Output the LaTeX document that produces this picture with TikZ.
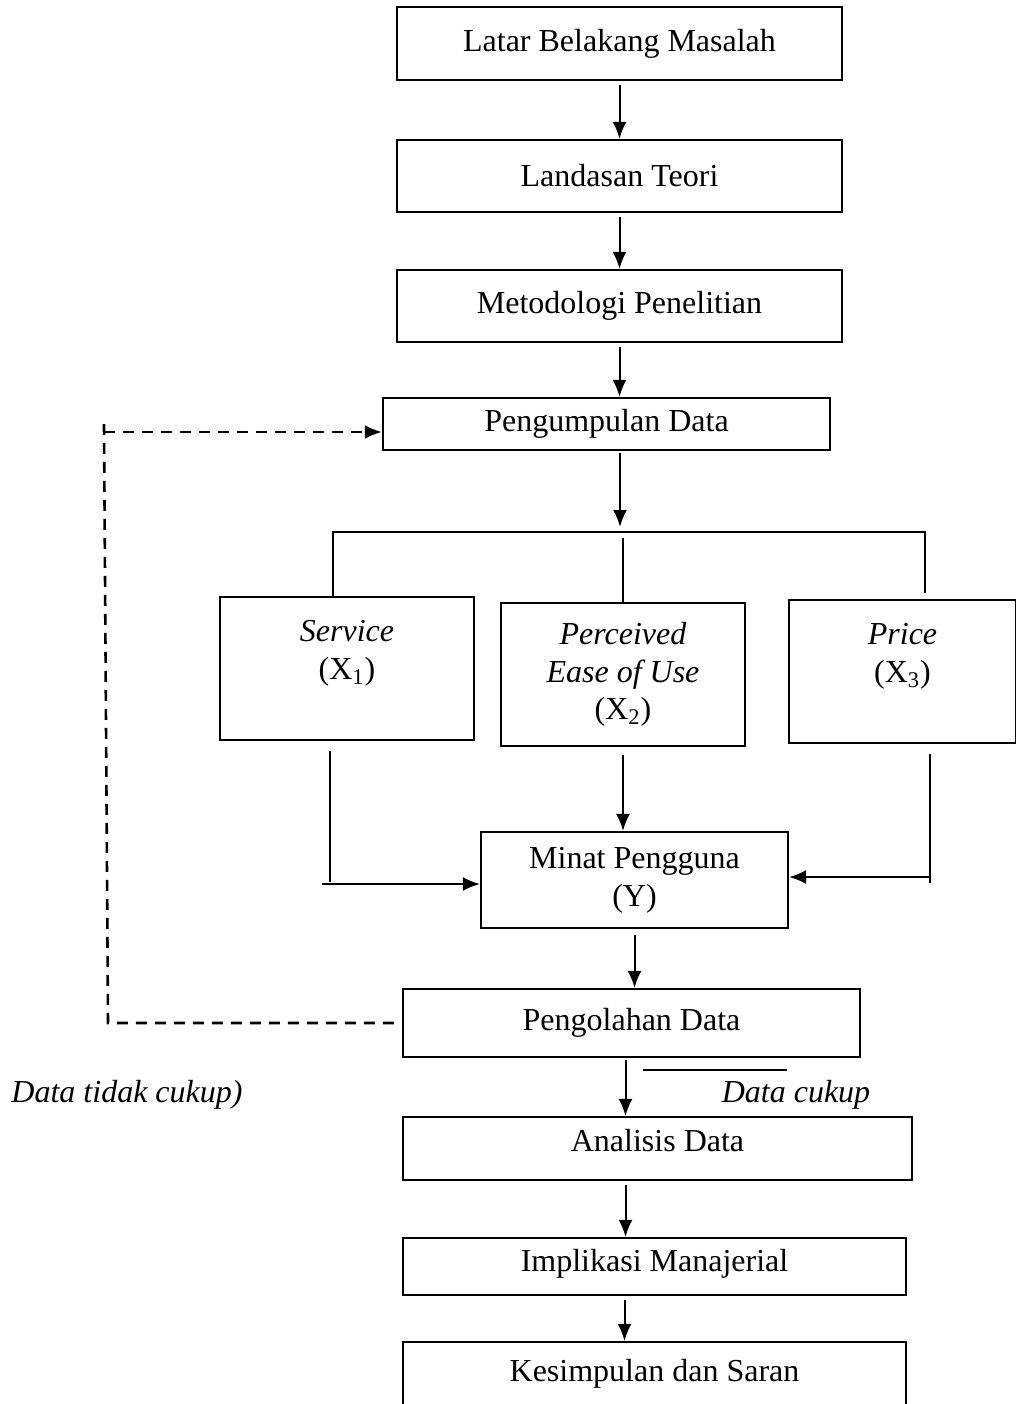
\documentclass[tikz,border=0pt]{standalone}
\usepackage{fontspec}
\setmainfont{Liberation Serif}
\usetikzlibrary{arrows.meta, positioning}

\begin{document}
\begin{tikzpicture}[
    x=0.5pt, y=-0.5pt,
    font=\fontsize{16}{19}\selectfont,
    box/.style={draw, line width=1.1pt, inner sep=0pt, align=center},
    link/.style={line width=1pt},
    arrow/.style={-{Latex[length=8.5pt, width=7pt]}, line width=1pt},
    feedback/.style={line width=1.3pt, dash pattern=on 5.5pt off 4pt}
]
    \useasboundingbox (0,0) rectangle (1016,1404);
    \clip (0,0) rectangle (1016,1404);

    % main column
    \node[box, minimum width=222.5pt, minimum height=36.5pt] (latar) at (619.5,43.5) {Latar Belakang Masalah};
    \node[box, minimum width=222.5pt, minimum height=36pt] (landasan) at (619.5,176) {Landasan Teori};
    \node[box, minimum width=222.5pt, minimum height=36pt] (metodologi) at (619.5,306) {Metodologi Penelitian};
    \node[box, minimum width=223.5pt, minimum height=26pt] (pengumpulan) at (606.5,424) {Pengumpulan Data};

    % variables
    \node[box, minimum width=127pt, minimum height=71.5pt] (service) at (347,668.5) {\textit{Service}\\(X\textsubscript{1})\\~};
    \node[box, minimum width=122pt, minimum height=71.5pt, font=\fontsize{16}{18.75}\selectfont] (perceived) at (623,674.5) {\textit{Perceived}\\\textit{Ease of Use}\\(X\textsubscript{2})};
    \node[box, minimum width=113.5pt, minimum height=71.5pt] (price) at (902.5,671.5) {\textit{Price}\\(X\textsubscript{3})\\~};
    \node[box, minimum width=153.5pt, minimum height=48pt] (minat) at (634.5,880) {Minat Pengguna\\(Y)};

    \node[box, minimum width=228.5pt, minimum height=34pt] (pengolahan) at (631.5,1023) {Pengolahan Data};
    \node[box, minimum width=254.5pt, minimum height=31.5pt, text depth=8pt] (analisis) at (657.5,1148.5) {Analisis Data};
    \node[box, minimum width=251.5pt, minimum height=28.5pt, text depth=6pt] (implikasi) at (654.5,1266.5) {Implikasi Manajerial};
    \node[box, minimum width=251.5pt, minimum height=32pt] (kesimpulan) at (654.5,1374) {Kesimpulan dan Saran};

    % labels
    \node (tidakcukup) at (127,1095) {\textit{Data tidak cukup)}};
    \node (cukup) at (796,1095) {\textit{Data cukup}};

    \coordinate (split) at (620,527);
    \coordinate (splitL) at (333,532);
    \coordinate (splitR) at (925,532);
    \coordinate (inL) at (330,884);
    \coordinate (inR) at (930,877);
    \coordinate (back) at (108,1023);
    \coordinate (backtop) at (104,424);
    \coordinate (cukupA) at (643,1070);
    \coordinate (cukupB) at (787,1070);

    \draw[arrow] ([yshift=-2pt]latar.south) -- (landasan);
    \draw[arrow] ([yshift=-2pt]landasan.south) -- (metodologi);
    \draw[arrow] ([yshift=-2pt]metodologi.south) -- (metodologi.south |- pengumpulan.north);
    \draw[arrow] ([yshift=-1pt]pengumpulan.south -| split) -- (split);

    \draw[link] (splitL |- service.north) -- (splitL) -- (splitR) -- ([yshift=3pt]splitR |- price.north);
    \draw[link] ([yshift=-3pt]perceived.north |- splitL) -- (perceived.north);

    \draw[link] ([yshift=-5pt]service.south -| inL) -- ([yshift=1pt]inL);
    \draw[arrow] ([xshift=-4pt]inL) -- (minat.west |- inL);
    \draw[arrow] ([yshift=-4pt]perceived.south) -- (perceived.south |- minat.north);
    \draw[link] ([yshift=-5pt]price.south -| inR) -- ([yshift=-3pt]inR);
    \draw[arrow] (inR) -- (minat.east |- inR);

    \draw[arrow] ([yshift=-3pt]minat.south) -- (minat.south |- pengolahan.north);
    \draw[arrow] ([xshift=-3pt,yshift=-1pt]pengolahan.south) -- ([xshift=-3pt]pengolahan.south |- analisis.north);
    \draw[link] (cukupA) -- (cukupB);
    \draw[arrow] ([xshift=-16pt,yshift=-2pt]analisis.south) -- ([xshift=-16pt]analisis.south |- implikasi.north);
    \draw[arrow] ([xshift=-15pt,yshift=-2pt]implikasi.south) -- ([xshift=-15pt]implikasi.south |- kesimpulan.north);

    % feedback loop
    \draw[feedback] ([xshift=-4pt]pengolahan.west) -- (back) -- (backtop);
    \draw[feedback, -{Latex[length=8.5pt, width=7pt]}] ([yshift=-4pt]backtop) -- ([yshift=-4pt]pengumpulan.west);
\end{tikzpicture}
\end{document}
